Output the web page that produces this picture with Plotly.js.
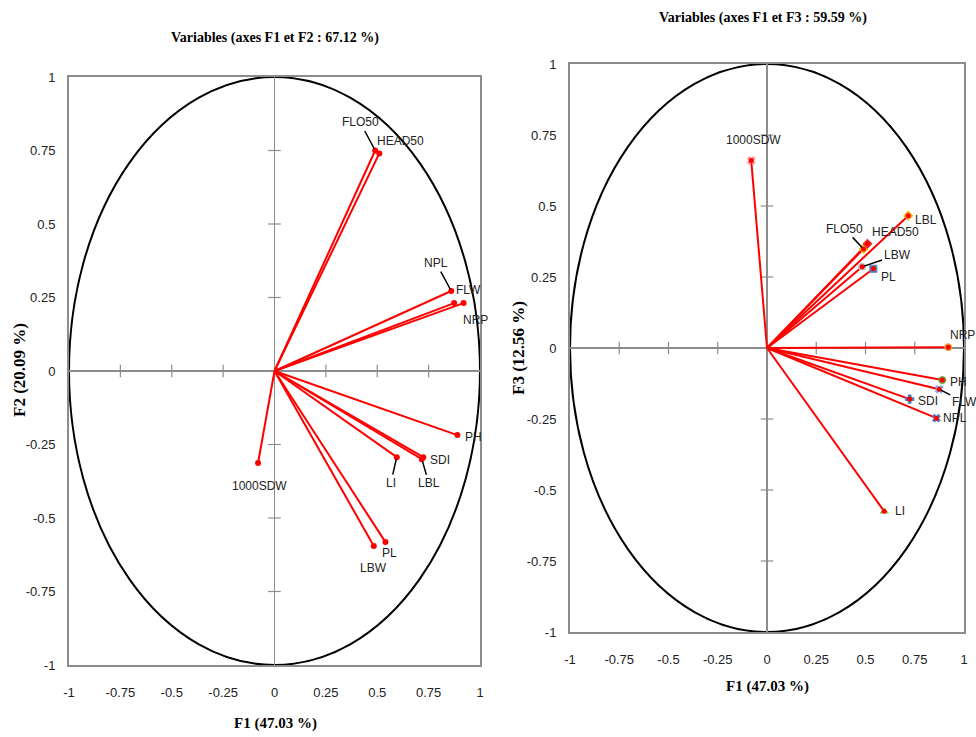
<!DOCTYPE html>
<html><head><meta charset="utf-8">
<script src="https://cdn.plot.ly/plotly-3.0.1.min.js"></script>
<style>html,body{margin:0;padding:0;background:#fff}#chart{width:976px;height:737px}</style>
</head><body><div id="chart"></div>
<script>
// ---- data ----
const variables = ['FLO50','HEAD50','NPL','FLW','NRP','PH','SDI','LBL','LI','PL','LBW','1000SDW'];
const f1 = [0.49, 0.51, 0.86, 0.874, 0.92, 0.89, 0.724, 0.717, 0.595, 0.54, 0.483, -0.08];
const f2 = [0.75, 0.74, 0.272, 0.231, 0.231, -0.218, -0.293, -0.30, -0.293, -0.582, -0.595, -0.313];
const f3 = [0.349, 0.367, -0.247, -0.145, 0.003, -0.113, -0.18, 0.466, -0.575, 0.279, 0.286, 0.66];
const tickVals = [-1, -0.75, -0.5, -0.25, 0, 0.25, 0.5, 0.75, 1];
const tickText = ['-1', '-0.75', '-0.5', '-0.25', '0', '0.25', '0.5', '0.75', '1'];
const titleLeft = 'Variables (axes F1 et F2 : 67.12 %)';
const titleRight = 'Variables (axes F1 et F3 : 59.59 %)';
const xTitle = 'F1 (47.03 %)';
const yTitleLeft = 'F2 (20.09 %)';
const yTitleRight = 'F3 (12.56 %)';

// ---- label placement (pixel offsets, leader flags) ----
const offLeft = [[-15,-28],[21,-12],[-15,-28],[14,-13],[12,17],[16,2],[17,3],[7,24],[-6,26],[4,11],[0,22],[1,23]];
const leadLeft = [true,false,true,false,false,false,false,true,true,false,false,false];
const offRight = [[-19,-20],[28,-12],[19,0],[25,13],[14,-12],[16,2],[18,2],[18,4],[16,0],[15,8],[35,-12],[2,-21]];
const leadRight = [true,false,false,true,false,false,false,false,false,false,true,false];
const underSym = ['diamond','diamond','x','x','circle','circle','cross','diamond','triangle-up','square','circle','x'];
const underCol = ['#f2c200','#e03030','#4a7ebb','#7fb2e5','#f0a030','#70a040','#4a7ebb','#f2b000','#8cc060','#4f81bd','#c0c0c0','#ff9090'];

const gray = '#8c8c8c';
const labFont = {family: 'Liberation Sans Narrow, Liberation Sans, Arial, sans-serif', size: 12, color: '#222'};
const titleFont = {family: 'Liberation Serif, Times New Roman, serif', size: 14, color: '#000', weight: 'bold'};
const axTitleFont = {family: 'Liberation Serif, Times New Roman, serif', size: 15, color: '#000', weight: 'bold'};
const yTitleFont = {family: 'Liberation Serif, Times New Roman, serif', size: 17, color: '#000', weight: 'bold'};

function vecTrace(xs, ys, xa, ya) {
  const x = [], y = [];
  xs.forEach((v, i) => { x.push(0, v, null); y.push(0, ys[i], null); });
  return {type: 'scatter', mode: 'lines', x, y, xaxis: xa, yaxis: ya,
          line: {color: '#ff0000', width: 2}, hoverinfo: 'skip', cliponaxis: false};
}
function ptTrace(xs, ys, xa, ya, size) {
  return {type: 'scatter', mode: 'markers', x: xs, y: ys, text: variables, xaxis: xa, yaxis: ya,
          marker: {color: '#ff0000', size: size, symbol: 'circle'}, cliponaxis: false};
}
function tickMarks(xa, ya) {
  const inner = tickVals.filter(v => v !== 0 && Math.abs(v) !== 1);
  return [
    {type: 'scatter', mode: 'markers', x: inner, y: inner.map(() => 0), xaxis: xa, yaxis: ya,
     marker: {symbol: 'line-ns', size: 9, line: {color: gray, width: 1.2}}, hoverinfo: 'skip'},
    {type: 'scatter', mode: 'markers', x: inner.map(() => 0), y: inner, xaxis: xa, yaxis: ya,
     marker: {symbol: 'line-ew', size: 9, line: {color: gray, width: 1.2}}, hoverinfo: 'skip'}
  ];
}

const traces = [
  ...tickMarks('x', 'y'),
  vecTrace(f1, f2, 'x', 'y'),
  ptTrace(f1, f2, 'x', 'y', 6),
  ...tickMarks('x2', 'y2'),
  vecTrace(f1, f3, 'x2', 'y2'),
  {type: 'scatter', mode: 'markers', x: f1, y: f3, xaxis: 'x2', yaxis: 'y2',
   marker: {symbol: underSym, color: underCol, size: 7, line: {color: underCol, width: 1}}, cliponaxis: false, hoverinfo: 'skip'},
  ptTrace(f1, f3, 'x2', 'y2', 5)
];

function axisCfg(domain, anchor, standoff) {
  return {domain, anchor, range: [-1, 1], tickvals: tickVals, ticktext: tickText,
          showgrid: false, zeroline: true, zerolinecolor: gray, zerolinewidth: 1.5,
          showline: true, mirror: true, linecolor: gray, linewidth: 2, ticks: '',
          ticklabelstandoff: standoff,
          tickfont: {family: labFont.family, size: 13, color: '#222'}, fixedrange: true};
}

const annotations = [];
function labels(ys, offs, leads, xr, yr) {
  variables.forEach((name, i) => {
    annotations.push({x: f1[i], y: ys[i], xref: xr, yref: yr, text: name, showarrow: true,
      ax: offs[i][0], ay: offs[i][1], arrowhead: 0, arrowwidth: 1.5, standoff: 2,
      arrowcolor: leads[i] ? '#000' : 'rgba(0,0,0,0)', font: labFont});
  });
}
labels(f2, offLeft, leadLeft, 'x', 'y');
labels(f3, offRight, leadRight, 'x2', 'y2');

function pt(px, py, text, font, angle) {
  annotations.push({xref: 'paper', yref: 'paper', x: px / 976, y: 1 - py / 737, text: text,
    showarrow: false, xanchor: 'center', yanchor: 'middle', textangle: angle || 0, font: font});
}
pt(275, 38, titleLeft, titleFont);
pt(763, 18, titleRight, titleFont);
pt(275, 723, xTitle, axTitleFont);
pt(767, 686, xTitle, axTitleFont);
pt(19, 370, yTitleLeft, yTitleFont, -90);
pt(518, 348, yTitleRight, yTitleFont, -90);

const shapes = [
  {type: 'circle', xref: 'x', yref: 'y', x0: -1, y0: -1, x1: 1, y1: 1, line: {color: '#000', width: 2}, layer: 'below'},
  {type: 'circle', xref: 'x2', yref: 'y2', x0: -1, y0: -1, x1: 1, y1: 1, line: {color: '#000', width: 2}, layer: 'below'}
];

const layout = {
  width: 976, height: 737, margin: {l: 0, r: 0, t: 0, b: 0},
  paper_bgcolor: '#fff', plot_bgcolor: '#fff', showlegend: false,
  xaxis: axisCfg([69 / 976, 480 / 976], 'y', 14),
  yaxis: axisCfg([1 - 665 / 737, 1 - 77 / 737], 'x', 9),
  xaxis2: axisCfg([570 / 976, 964 / 976], 'y2', 14),
  yaxis2: axisCfg([1 - 632 / 737, 1 - 64 / 737], 'x2', 9),
  annotations, shapes
};

Plotly.newPlot('chart', traces, layout, {staticPlot: true, displayModeBar: false});
</script>
</body></html>
